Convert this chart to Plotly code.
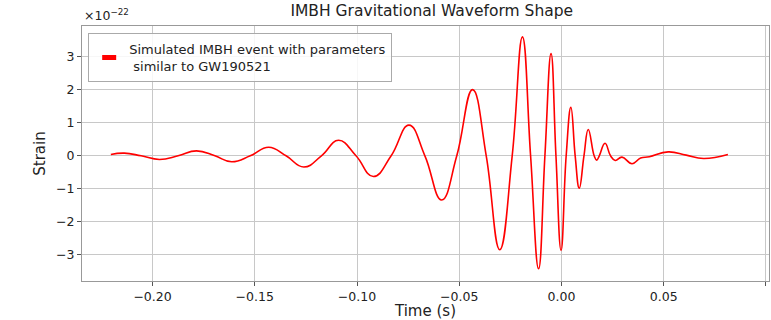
import plotly.graph_objects as go

# Waveform samples (time in s, strain in units of 1e-22): extrema and zero crossings
time_s = [
    -0.2204, -0.2138, -0.2056, -0.1966, -0.1875, -0.1785, -0.1695, -0.1613,
    -0.1522, -0.1432, -0.1347, -0.1260, -0.1174, -0.1090, -0.1005, -0.0920,
    -0.0833, -0.0746, -0.0668, -0.0586, -0.0512, -0.0435, -0.0368, -0.0302,
    -0.0241, -0.0191, -0.0151, -0.0112, -0.0081, -0.0051, -0.0027, -0.0002,
    0.0023, 0.0046, 0.0067, 0.0087, 0.0110, 0.0131, 0.0160, 0.0172,
    0.0185, 0.0213, 0.0240, 0.0263, 0.0296, 0.0345, 0.0387, 0.0430,
    0.0522, 0.0610, 0.0695, 0.0814,
]
strain_e22 = [
    0.04, 0.08, 0.00, -0.11, 0.00, 0.15, 0.00, -0.18,
    0.00, 0.26, 0.00, -0.34, 0.00, 0.47, 0.00, -0.63,
    0.00, 0.93, 0.00, -1.34, 0.00, 2.01, 0.00, -2.85,
    0.00, 3.61, 0.00, -3.43, 0.00, 3.10, 0.00, -2.87,
    0.00, 1.47, 0.00, -0.98, 0.00, 0.80, 0.00, -0.13,
    0.00, 0.38, 0.00, -0.14, -0.04, -0.24, -0.07, -0.03,
    0.12, 0.02, -0.08, 0.04,
]

x_ticks = [-0.20, -0.15, -0.10, -0.05, 0.00, 0.05, 0.10]
x_tick_labels = ["\u22120.20", "\u22120.15", "\u22120.10", "\u22120.05", "0.00", "0.05", "0.1"]
y_ticks = [-3, -2, -1, 0, 1, 2, 3]

legend_label = "Simulated IMBH event with parameters<br>\u00a0similar to GW190521"

FONT = "DejaVu Sans"

fig = go.Figure()
fig.add_trace(go.Scatter(
    x=time_s, y=strain_e22, mode="lines",
    line=dict(color="red", width=1.6, shape="spline", smoothing=1.3),
    showlegend=False,
))
# legend entry drawn as a small filled red patch
fig.add_trace(go.Scatter(
    x=[None], y=[None], mode="markers", name=legend_label,
    marker=dict(symbol="line-ew", size=10, color="red",
                line=dict(color="red", width=5)),
))

grid = "#c8c8c8"
fig.update_layout(
    width=771, height=320,
    margin=dict(l=82, r=2, t=26, b=39),
    paper_bgcolor="white", plot_bgcolor="white",
    font=dict(family=FONT, size=12.5, color="#222"),
    title=dict(text="IMBH Gravitational Waveform Shape", x=0.56, xanchor="center",
               y=0.985, yanchor="top", font=dict(size=15.5, color="#222")),
    xaxis=dict(
        range=[-0.2345, 0.1015], tickvals=x_ticks, ticktext=x_tick_labels,
        showgrid=True, gridcolor=grid, gridwidth=1, zeroline=False,
        showline=True, linecolor="#999", linewidth=1, mirror=True,
        ticks="outside", ticklen=4, tickcolor="#555", automargin=False,
        title=dict(text="Time (s)", font=dict(size=15), standoff=6),
    ),
    yaxis=dict(
        range=[-3.8, 3.94], tickvals=y_ticks,
        showgrid=True, gridcolor=grid, gridwidth=1, zeroline=False,
        showline=True, linecolor="#999", linewidth=1, mirror=True,
        ticks="outside", ticklen=4, tickcolor="#555", automargin=False,
        title=dict(text="Strain", font=dict(size=15), standoff=6),
    ),
    legend=dict(
        x=0.009, y=0.972, xanchor="left", yanchor="top",
        bgcolor="rgba(255,255,255,0.85)", bordercolor="#aaa", borderwidth=1,
        font=dict(size=13, color="#222"), tracegroupgap=0,
    ),
    annotations=[dict(
        text="\u00d710<sup>\u221222</sup>", xref="paper", yref="paper",
        x=0.0, y=1.0, xanchor="left", yanchor="bottom", yshift=1,
        showarrow=False, font=dict(size=12.5, color="#222"),
    )],
)

fig.write_html("out.html")
